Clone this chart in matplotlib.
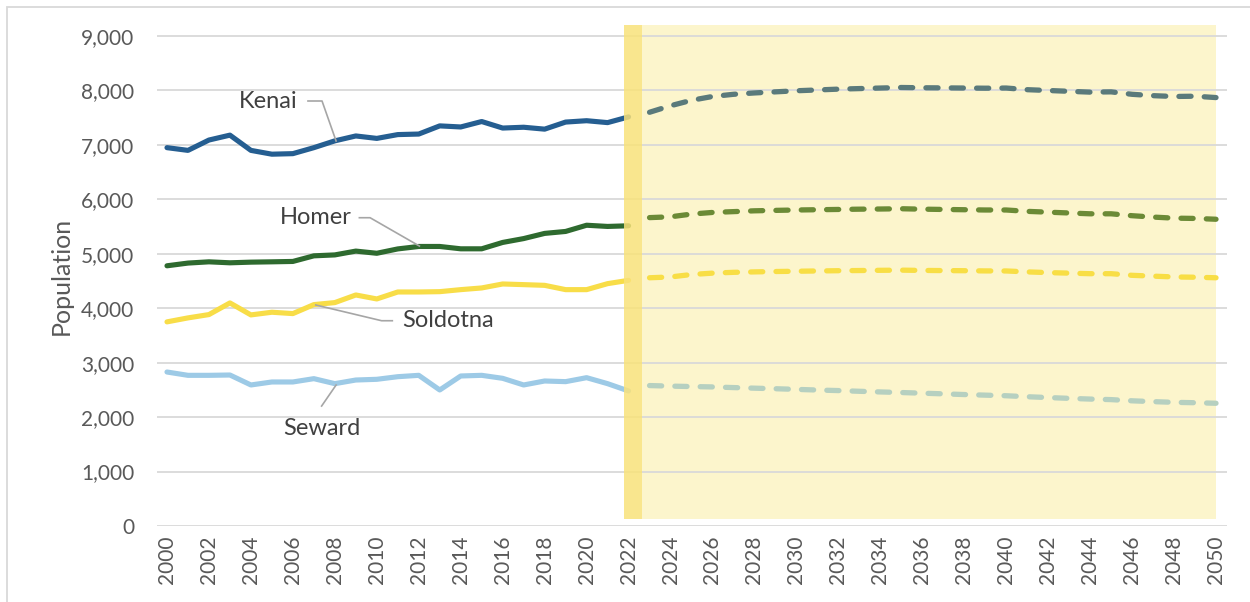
import matplotlib
matplotlib.use("Agg")
import matplotlib.pyplot as plt
from matplotlib.patches import Rectangle

plt.rcParams['font.family'] = ['Lato', 'DejaVu Sans']

hist_years = list(range(2000, 2023))
proj_years = list(range(2023, 2051))

kenai_hist = [6950, 6900, 7090, 7180, 6900, 6830, 6840, 6950, 7075, 7165, 7120, 7190, 7200,
              7350, 7330, 7430, 7310, 7325, 7290, 7420, 7445, 7410, 7515]
homer_hist = [4780, 4830, 4853, 4835, 4847, 4853, 4860, 4963, 4980, 5050, 5010, 5090, 5135,
              5135, 5092, 5092, 5209, 5280, 5375, 5411, 5525, 5503, 5515]
soldotna_hist = [3750, 3823, 3884, 4098, 3878, 3927, 3902, 4067, 4104, 4244, 4171, 4299, 4299,
                 4305, 4342, 4373, 4446, 4434, 4421, 4342, 4342, 4452, 4513]
seward_hist = [2829, 2768, 2768, 2774, 2591, 2646, 2646, 2707, 2615, 2682, 2695, 2743, 2768,
               2499, 2756, 2768, 2713, 2591, 2664, 2652, 2725, 2615, 2481]

kenai_proj = [7600, 7720, 7820, 7890, 7930, 7955, 7975, 7995, 8010, 8025, 8035, 8045, 8055, 8050,
              8048, 8045, 8042, 8045, 8015, 8000, 7985, 7970, 7975, 7930, 7905, 7890, 7895, 7870]
homer_proj = [5665, 5680, 5730, 5760, 5775, 5790, 5798, 5805, 5810, 5815, 5820, 5823, 5828, 5820,
              5815, 5810, 5805, 5805, 5780, 5765, 5750, 5735, 5735, 5700, 5675, 5655, 5650, 5635]
soldotna_proj = [4560, 4575, 4620, 4645, 4660, 4668, 4675, 4680, 4685, 4690, 4693, 4697, 4700, 4695,
                 4692, 4690, 4686, 4685, 4668, 4655, 4645, 4635, 4635, 4605, 4590, 4575, 4570, 4560]
seward_proj = [2580, 2570, 2562, 2555, 2543, 2532, 2522, 2510, 2498, 2488, 2475, 2463, 2452, 2440,
               2428, 2415, 2404, 2393, 2375, 2360, 2345, 2332, 2322, 2300, 2285, 2272, 2265, 2255]

yticks = list(range(0, 9001, 1000))
xticks = list(range(2000, 2051, 2))

fig = plt.figure(figsize=(12.5, 6.02), dpi=100)
ax = fig.add_axes([0.1252, 0.1262, 0.856, 0.832])

# background projection region
ax.add_patch(Rectangle((2022.64, 130), 2050 - 2022.64, 9200 - 130, facecolor='#fcf5cc',
                       edgecolor='none', zorder=0))

hist_colors = ['#255e91', '#2e6a2f', '#f8dd48', '#9dcae6']
proj_colors = ['#5a7a7b', '#6b8a36', '#f8de45', '#b6d0c0']
hists = [kenai_hist, homer_hist, soldotna_hist, seward_hist]
projs = [kenai_proj, homer_proj, soldotna_proj, seward_proj]

for h, p, hc, pc in zip(hists, projs, hist_colors, proj_colors):
    ax.plot(hist_years, h, color=hc, lw=3.7, solid_capstyle='round', solid_joinstyle='round', zorder=3)
    ax.plot(proj_years, p, color=pc, lw=3.8, linestyle=(0, (2.3, 2.5)),
            dash_capstyle='round', zorder=3)

# dark band at 2022
ax.add_patch(Rectangle((2021.78, 130), 2022.64 - 2021.78, 9200 - 130, facecolor='#f9e27a',
                       edgecolor='none', alpha=0.85, zorder=4))

ax.set_xlim(1999.5, 2050.5)
ax.set_ylim(0, 9200)
ax.set_yticks(yticks)
ax.set_yticklabels([f"{v:,}" for v in yticks])
ax.set_xticks(xticks)
ax.set_xticklabels([str(v) for v in xticks], rotation=90)
ax.grid(axis='y', color='#d9d9d9', lw=1.3, zorder=1)
ax.set_axisbelow(True)
for s in ax.spines.values():
    s.set_visible(False)
ax.tick_params(axis='both', length=0, labelsize=15, colors='#595959')
ax.tick_params(axis='y', pad=16)
ax.tick_params(axis='x', pad=7)
ax.set_ylabel('Population', fontsize=18, color='#595959', labelpad=6)

# labels with leader lines
lc = '#a6a6a6'
tc = '#404040'
ax.plot([2006.72, 2007.39, 2008.06], [7807, 7807, 7072], color=lc, lw=1.2, zorder=5)
ax.text(2006.2, 7807, 'Kenai', ha='right', va='center', fontsize=17, color=tc)
ax.plot([2009.17, 2009.68, 2012.03], [5663, 5663, 5143], color=lc, lw=1.2, zorder=5)
ax.text(2008.8, 5663, 'Homer', ha='right', va='center', fontsize=17, color=tc)
ax.plot([2010.74, 2010.23, 2007.09], [3771, 3771, 4060], color=lc, lw=1.2, zorder=5)
ax.text(2011.2, 3771, 'Soldotna', ha='left', va='center', fontsize=17, color=tc)
ax.plot([2007.37, 2008.06], [2204, 2590], color=lc, lw=1.2, zorder=5)
ax.text(2007.4, 1790, 'Seward', ha='center', va='center', fontsize=17, color=tc)

fig.add_artist(Rectangle((7 / 1250, -0.01), 1.05, 1 - 7 / 602 + 0.01, transform=fig.transFigure,
                         facecolor='none', edgecolor='#d9d9d9', lw=1.3))

fig.savefig('out.png', dpi=100)
